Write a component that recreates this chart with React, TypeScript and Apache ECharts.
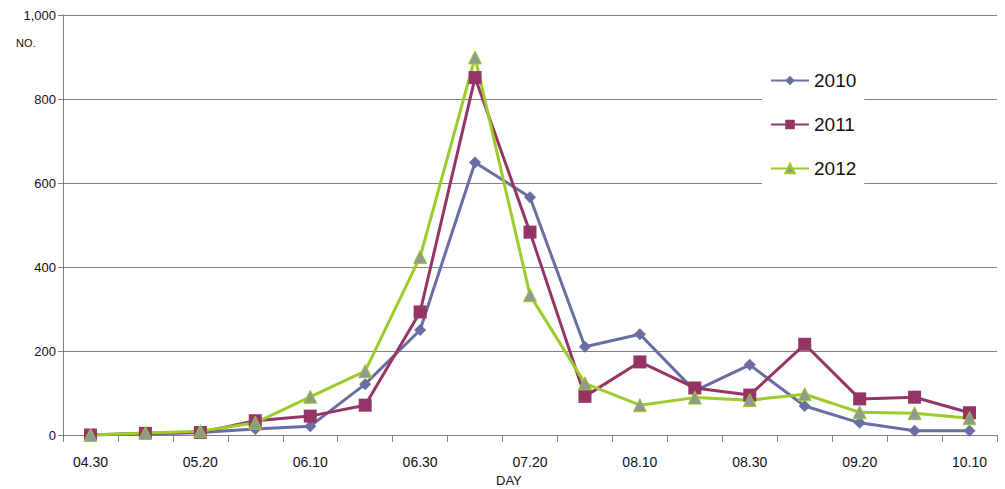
import React, { useEffect, useRef } from "react";
import * as echarts from "echarts";

const days = [
  "04.30", "05.10", "05.20", "05.31", "06.10", "06.20", "06.30", "07.10", "07.20",
  "07.31", "08.10", "08.20", "08.30", "09.10", "09.20", "09.30", "10.10",
];
const s2010 = [0, 3, 6, 14, 21, 121, 250, 649, 566, 210, 240, 105, 167, 69, 29, 10, 10];
const s2011 = [0, 4, 6, 34, 45, 71, 293, 851, 483, 92, 174, 112, 95, 216, 86, 90, 53];
const s2012 = [0, 5, 9, 29, 91, 152, 424, 899, 333, 123, 71, 89, 83, 97, 54, 52, 40];
const yTicks = [0, 200, 400, 600, 800, 1000];

const FONT = "'Liberation Sans', Arial, sans-serif";

export default function App() {
  const ref = useRef<HTMLDivElement>(null);
  useEffect(() => {
    if (!ref.current) return;
    const chart = echarts.init(ref.current, null, { renderer: "svg" });
    const axisGray = "#808080";
    const mk = (name: string, data: number[], color: string, symbol: string, size: number, fill?: string) => ({
      name,
      type: "line",
      data,
      symbol,
      symbolSize: size,
      showSymbol: true,
      lineStyle: { color, width: 3 },
      itemStyle: { color: fill || color, borderColor: color, borderWidth: fill ? 1 : 0 },
      z: 3,
    });
    chart.setOption({
      animation: false,
      backgroundColor: "#ffffff",
      grid: { left: 63, right: 8, top: 15, bottom: 54, containLabel: false },
      legend: {
        orient: "vertical",
        left: 762,
        top: 65,
        itemGap: 25,
        itemWidth: 38,
        itemHeight: 12,
        backgroundColor: "#ffffff",
        padding: [6, 8, 6, 8],
        textStyle: { fontFamily: FONT, fontSize: 19, color: "#111" },
        data: ["2010", "2011", "2012"],
      },
      xAxis: {
        type: "category",
        data: days,
        boundaryGap: true,
        axisLine: { lineStyle: { color: axisGray, width: 1 } },
        axisTick: { show: true, interval: 0, length: 7, lineStyle: { color: axisGray } },
        axisLabel: {
          interval: 1,
          margin: 20,
          fontFamily: FONT,
          fontSize: 14,
          color: "#111",
        },
        splitLine: { show: false },
      },
      yAxis: {
        type: "value",
        min: yTicks[0],
        max: yTicks[yTicks.length - 1],
        interval: 200,
        axisLine: { show: true, lineStyle: { color: axisGray, width: 1 } },
        axisTick: { show: true, length: 5, lineStyle: { color: axisGray } },
        axisLabel: {
          margin: 7,
          fontFamily: FONT,
          fontSize: 13,
          color: "#111",
          formatter: (v: number) => v.toLocaleString("en-US"),
        },
        splitLine: { show: true, lineStyle: { color: axisGray, width: 1 } },
      },
      graphic: [
        {
          type: "text",
          left: 16,
          top: 37,
          style: { text: "NO.", fontFamily: FONT, fontSize: 11, fill: "#111" },
        },
        {
          type: "text",
          left: 496,
          top: 474,
          style: { text: "DAY", fontFamily: FONT, fontSize: 13, fill: "#111" },
        },
      ],
      series: [
        mk("2010", s2010, "#696EA2", "diamond", 12),
        mk("2011", s2011, "#953466", "rect", 13),
        mk("2012", s2012, "#9CCB2B", "triangle", 13, "#8E9A8C"),
      ],
    });
    return () => chart.dispose();
  }, []);
  return (
    <div
      ref={ref}
      style={{ position: "fixed", left: 0, top: 0, width: 1005, height: 489 }}
    />
  );
}
